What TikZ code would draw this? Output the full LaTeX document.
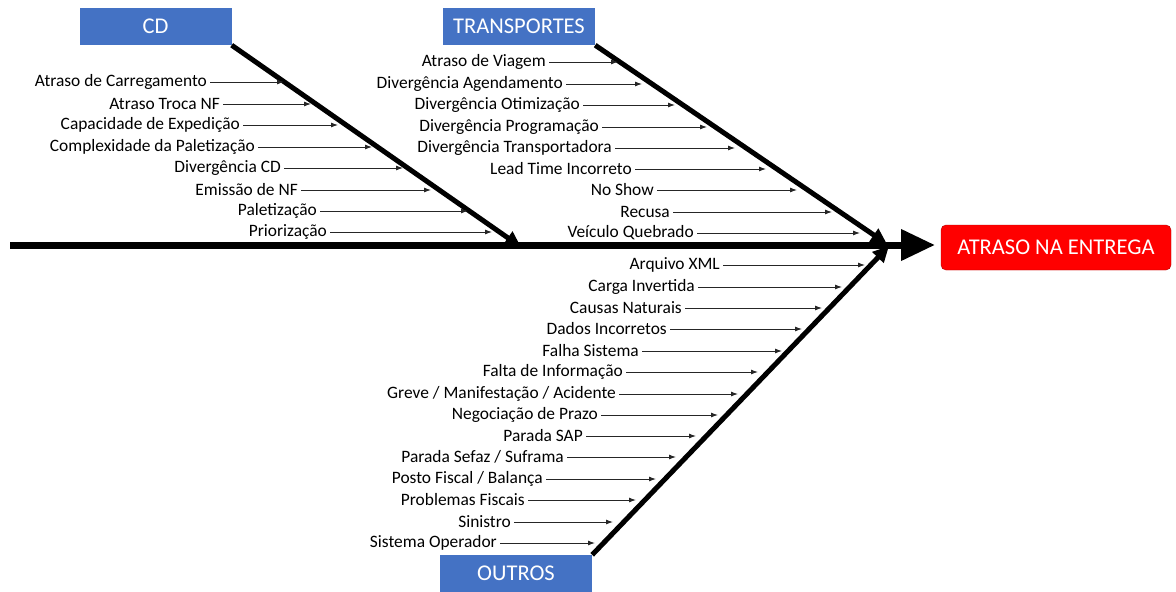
\documentclass[tikz,border=0pt]{standalone}
\usepackage{fontspec}
\setmainfont{Carlito}
\usetikzlibrary{arrows.meta}

\definecolor{boxblue}{HTML}{4472C4}
\definecolor{effectred}{HTML}{FF0000}

\begin{document}
\begin{tikzpicture}[x=1pt,y=-1pt]
                \newcommand{\causefont}{\fontsize{17.4}{19}\selectfont}
                \newcommand{\headfont}{\fontsize{22.5}{24}\selectfont}
                \tikzset{
                    category/.style={fill=boxblue, text=white, minimum width=152pt, minimum height=37pt, inner sep=0, font=\headfont},
                    cause/.style={anchor=east, inner sep=3pt, font=\causefont},
                    causearrow/.style={draw=black!85, line width=0.9pt, -{Latex[length=7pt,width=5pt]}},
                    bone/.style={line width=5pt, -{Triangle[length=16pt,width=15pt]}}
                }
                \useasboundingbox (0,0) rectangle (1176,592);

                % Draw category boxes
                \node[category] (cd) at (155.5,26.5) {CD};
                \node[category] (transp) at (519,26.5) {TRANSPORTES};
                \node[category] (outros) at (516,573.5) {OUTROS};

                % Draw effect box
                \node[fill=effectred, draw=red!70!black, rounded corners=5pt, text=white, minimum width=230pt, minimum height=45pt, font=\headfont] (effect) at (1056,247.5) {ATRASO NA ENTREGA};

                % Draw spine and bones
                \coordinate (spinestart) at (10,245);
                \coordinate (spinetip) at (935,245);
                \draw[line width=7pt, -{Triangle[length=34pt,width=30pt]}] (spinestart) -- (spinetip);
                \coordinate (cdtip) at (521,247);
                \coordinate (transptip) at (887,244);
                \coordinate (outrostip) at (889,246);
                \draw[bone] (cd.south east) -- (cdtip);
                \draw[bone] (transp.south east) -- (transptip);
                \draw[bone] (outros.north east) -- (outrostip);

                % Draw CD causes
                \foreach \txt/\ty/\tx/\ax [count=\i] in {Atraso de Carregamento/82/210/284, Atraso Troca NF/104/223/311, Capacidade de Expedição/125/243/338, Complexidade da Paletização/147/258/372, Divergência CD/168/284/403, Emissão de NF/190/301/431, Paletização/211/320/468, Priorização/232/330/492} {
                    \node[cause] (cdc\i) at (\tx,\ty) {\txt};
                    \coordinate (cdp\i) at (\ax,\ty);
                    \draw[causearrow] (cdc\i.east) -- (cdp\i);
                }

                % Draw TRANSPORTES causes
                \foreach \txt/\ty/\tx/\ax [count=\i] in {Atraso de Viagem/62/549/618, Divergência Agendamento/84/566/642, Divergência Otimização/105/583/675, Divergência Programação/127/602/707, Divergência Transportadora/148/615/735, Lead Time Incorreto/169/635/766, No Show/190/657/797, Recusa/212/673/832, Veículo Quebrado/233/697/860} {
                    \node[cause] (trc\i) at (\tx,\ty) {\txt};
                    \coordinate (trp\i) at (\ax,\ty);
                    \draw[causearrow] (trc\i.east) -- (trp\i);
                }

                % Draw OUTROS causes
                \foreach \txt/\ty/\tx/\ax [count=\i] in {Arquivo XML/265/723/865, Carga Invertida/287/698/842, Causas Naturais/308/685/822, Dados Incorretos/329/670/802, Falha Sistema/351/642/782, Falta de Informação/372/626/758, {Greve / Manifestação / Acidente}/394/619/738, Negociação de Prazo/415/601/718, Parada SAP/436/586/696, {Parada Sefaz / Suframa}/457/567/676, {Posto Fiscal / Balança}/479/546/656, Problemas Fiscais/500/528/636, Sinistro/522/514/613, Sistema Operador/543/500/595} {
                    \node[cause] (otc\i) at (\tx,\ty) {\txt};
                    \coordinate (otp\i) at (\ax,\ty);
                    \draw[causearrow] (otc\i.east) -- (otp\i);
                }
            \end{tikzpicture}
\end{document}
